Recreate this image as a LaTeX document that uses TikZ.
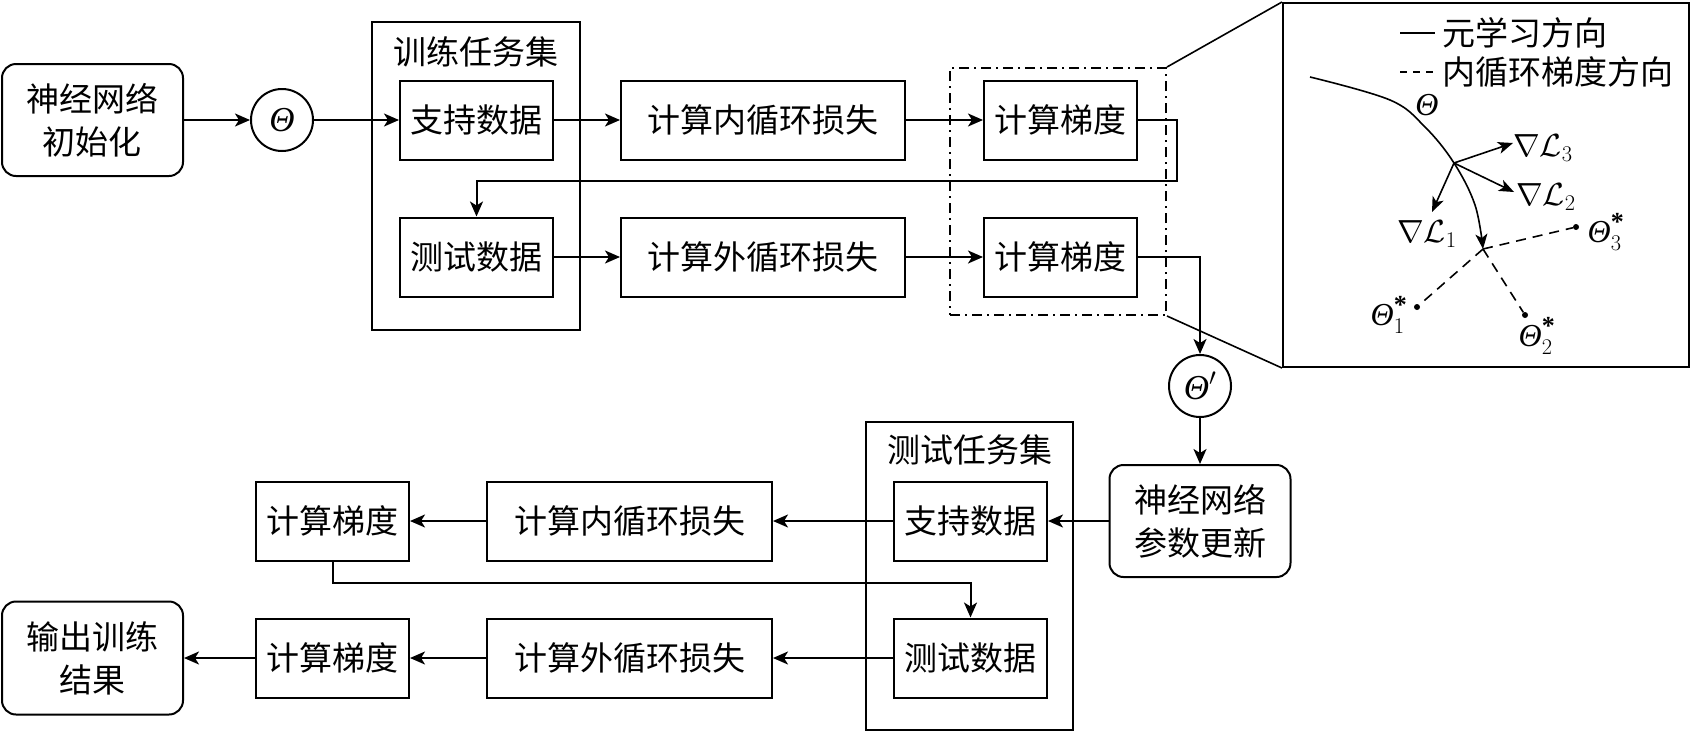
\RequirePackage{fix-cm}
\documentclass[tikz,border=0pt]{standalone}
\usepackage{fontspec}
\setmainfont{Liberation Serif}
\newfontfamily\cjk{Noto Sans CJK SC}
\usetikzlibrary{arrows.meta,calc}
\newcommand{\cnfont}{\cjk\fontsize{33}{43}\selectfont}
\newcommand{\mlab}{\fontsize{32}{36}\selectfont}
\newcommand{\thsym}{\mbox{\itshape Θ}}
\newcommand{\astr}{\mbox{\fontsize{26}{26}\selectfont\bfseries *}}
\tikzset{
  base/.style={draw, line width=2pt, inner sep=0pt, align=center, font=\cnfont},
  box/.style={base, rectangle, minimum width=153pt, minimum height=79pt},
  wide/.style={box, minimum width=284pt},
  rbox/.style={base, rounded corners=14pt, minimum width=181pt, minimum height=112pt},
  circ/.style={base, circle, minimum size=62pt, font=\fontsize{35}{40}\selectfont},
  frame/.style={draw, line width=2pt, inner sep=0pt},
  arr/.style={line width=2pt, -{Stealth[length=15pt,width=13pt,inset=4pt]}},
  pln/.style={line width=1.6pt},
  parr/.style={line width=1.6pt, -{Stealth[length=15pt,width=12pt,inset=4pt]}},
  dsh/.style={line width=1.6pt, dash pattern=on 10pt off 7pt},
  dot/.style={circle, fill, inner sep=0pt, minimum size=6pt},
  mtxt/.style={font=\mlab, inner sep=0pt},
}
\begin{document}
\begin{tikzpicture}[x=1pt,y=-1pt]
\useasboundingbox (0,0) rectangle (1691,732);

% ---------- top part ----------
\node[rbox] (init) at (92.5,120) {神经网络\\初始化};
\node[circ] (theta) at (282,120) {$\thsym$};
\node[frame, minimum width=208pt, minimum height=308pt] (train) at (476,176) {};
\node[font=\cnfont, inner sep=0pt] (traint) at (476,52) {训练任务集};
\node[box] (sup1) at (476.5,120) {支持数据};
\node[box] (tst1) at (476.5,257) {测试数据};
\node[wide] (inner1) at (763,120) {计算内循环损失};
\node[wide] (outer1) at (763,257) {计算外循环损失};
\node[box] (grad1) at (1060.5,120) {计算梯度};
\node[box] (grad2) at (1060.5,257) {计算梯度};
\node[frame, dash pattern=on 10pt off 5pt on 2pt off 5pt, minimum width=216pt, minimum height=247pt] (dd) at (1058,191.5) {};
\node[circ] (thetap) at (1200,386) {$\thsym'$};

\draw[arr] (init.east) -- (theta.west);
\draw[arr] (theta.east) -- (sup1.west);
\draw[arr] (sup1.east) -- (inner1.west);
\draw[arr] (inner1.east) -- (grad1.west);
\coordinate (lp1) at (1177,181);
\draw[arr] (grad1.east) -| (lp1) -| (tst1.north);
\draw[arr] (tst1.east) -- (outer1.west);
\draw[arr] (outer1.east) -- (grad2.west);
\draw[arr] (grad2.east) -| (thetap.north);

% ---------- bottom part ----------
\node[rbox] (update) at (1200,521) {神经网络\\参数更新};
\node[frame, minimum width=207pt, minimum height=308pt] (testset) at (969.5,576) {};
\node[font=\cnfont, inner sep=0pt] (testt) at (969.5,450) {测试任务集};
\node[box] (sup2) at (970.5,521) {支持数据};
\node[box] (tst2) at (970.5,658) {测试数据};
\node[wide, minimum width=285pt] (inner2) at (629.5,521) {计算内循环损失};
\node[wide, minimum width=285pt] (outer2) at (629.5,658) {计算外循环损失};
\node[box] (grad3) at (332.5,521) {计算梯度};
\node[box] (grad4) at (332.5,658) {计算梯度};
\node[rbox, minimum height=113pt] (output) at (92.5,658) {输出训练\\结果};

\draw[arr] (thetap.south) -- (update.north);
\draw[arr] (update.west) -- (sup2.east);
\draw[arr] (sup2.west) -- (inner2.east);
\draw[arr] (inner2.west) -- (grad3.east);
\coordinate (lp2) at (600,583);
\draw[arr] (grad3.south) |- (lp2) -| (tst2.north);
\draw[arr] (tst2.west) -- (outer2.east);
\draw[arr] (outer2.west) -- (grad4.east);
\draw[arr] (grad4.west) -- (output.east);

% ---------- zoom panel ----------
\node[frame, minimum width=406pt, minimum height=364pt] (panel) at (1486,185) {};
\draw[pln] (dd.north east) -- (panel.north west);
\draw[pln] (dd.south east) -- (panel.south west);

% legend
\coordinate (la1) at (1400,33);
\coordinate (la2) at (1435,33);
\coordinate (lb1) at (1400,72);
\coordinate (lb2) at (1437,72);
\draw[pln] (la1) -- (la2);
\draw[pln, dash pattern=on 7pt off 6pt] (lb1) -- (lb2);
\node[font=\cnfont, anchor=west, inner sep=0pt] (lega) at (1442,33) {元学习方向};
\node[font=\cnfont, anchor=west, inner sep=0pt] (legb) at (1442,72) {内循环梯度方向};

% meta-learning path
\coordinate (c0) at (1310,77);
\coordinate (c1) at (1390,100);
\coordinate (c2) at (1425,127);
\coordinate (P) at (1454,163);
\coordinate (c3) at (1475,205);
\coordinate (Q) at (1483,249);
\draw[parr] plot[smooth, tension=0.6] coordinates {(c0) (c1) (c2) (P) (c3) (Q)};
\node[mtxt] (thl) at (1427,105) {$\thsym$};

% gradients
\coordinate (g3) at (1513,143);
\coordinate (g2) at (1514,192);
\coordinate (g1) at (1432,212);
\draw[parr] (P) -- (g3);
\draw[parr] (P) -- (g2);
\draw[parr] (P) -- (g1);
\node[mtxt, anchor=west] (l3) at (1513,148) {$\nabla\mathcal{L}_3$};
\node[mtxt, anchor=west] (l2) at (1516,197) {$\nabla\mathcal{L}_2$};
\node[mtxt, anchor=west] (l1) at (1397,234) {$\nabla\mathcal{L}_1$};

% task optima
\node[dot] (s3) at (1576,227) {};
\node[dot] (s1) at (1417,307) {};
\node[dot] (s2) at (1525,315) {};
\draw[dsh] (Q) -- (s3);
\draw[dsh] (Q) -- (s1);
\draw[dsh] (Q) -- (s2);
\node[mtxt] (t3) at (1606,232) {$\thsym^{\astr}_{3}$};
\node[mtxt] (t1) at (1389,315) {$\thsym^{\astr}_{1}$};
\node[mtxt] (t2) at (1537,336) {$\thsym^{\astr}_{2}$};
\end{tikzpicture}
\end{document}
